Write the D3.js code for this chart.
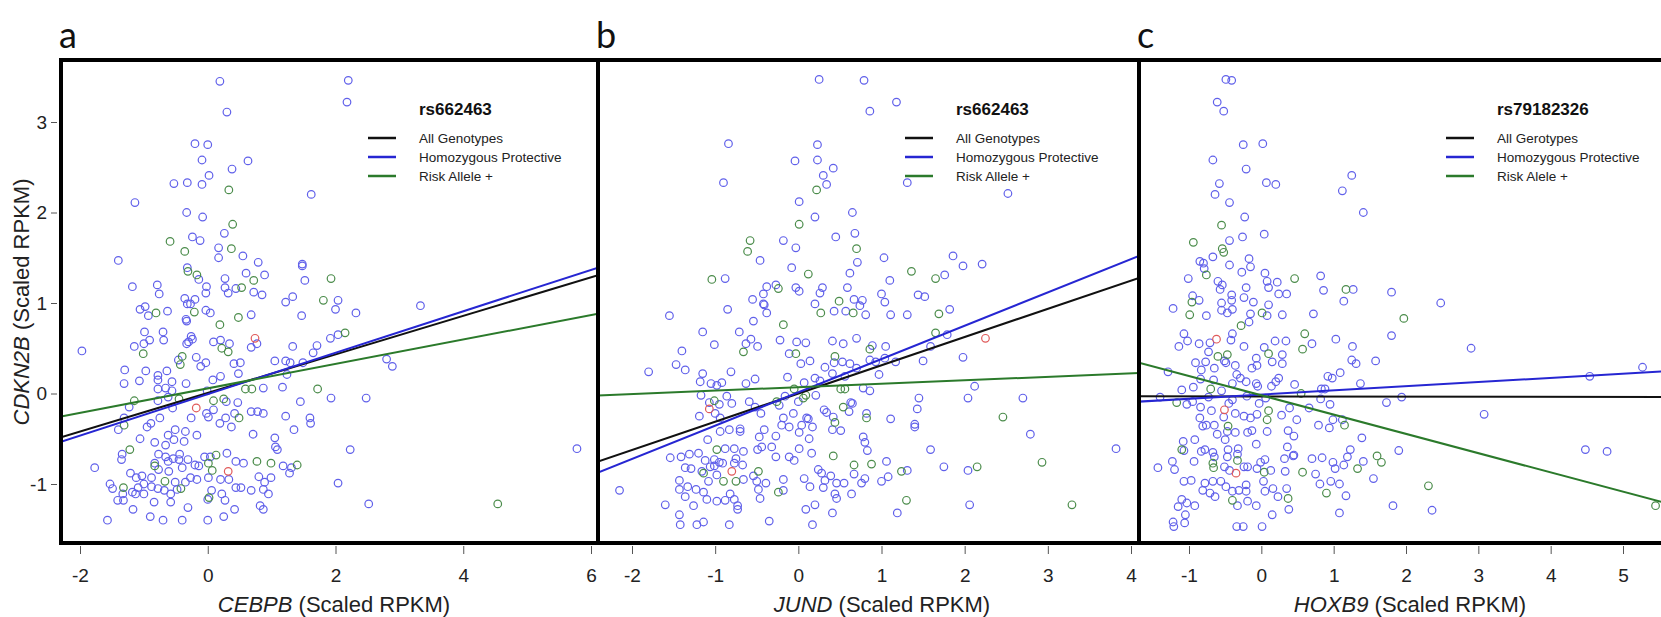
<!DOCTYPE html>
<html>
<head>
<meta charset="utf-8">
<script src="https://cdn.jsdelivr.net/npm/d3@7"></script>
<style>
    body { margin: 0; background: #fff; }
    svg { display: block; font-family: "Liberation Sans", Arial, sans-serif; }
    .tick line { stroke: #555; }
    .tick text { font-size: 19px; fill: #222; }
</style>
</head>
<body>
<script>
let width = 1661,
    height = 617;

// shared y axis (CDKN2B)
let yTicks = [-1, 0, 1, 2, 3];
let xTicksA = [-2, 0, 2, 4, 6];
let xTicksB = [-2, -1, 0, 1, 2, 3, 4];
let xTicksC = [-1, 0, 1, 2, 3, 4, 5];

let legendAB = ["All Genotypes", "Homozygous Protective", "Risk Allele +"];
let legendC = ["All Gerotypes", "Homozygous Protective", "Risk Alele +"];

// fitted lines: [slope, intercept] for all / homozygous protective / risk allele +
let cebpbFits = [[0.213, 0.006], [0.229, -0.008], [0.135, 0.057]];
let jundFits = [[0.312, 0.0], [0.368, 0.013], [0.038, 0.07]];
let hoxb9Fits = [[-0.0014, -0.032], [0.046, -0.012], [-0.213, -0.02]];

let cebpbBlue = [[0.19,3.45],[2.20,3.46],[2.18,3.22],[0.30,3.11],[-0.20,2.76],[0.00,2.75],[-0.09,2.58],[0.38,2.48],[0.63,2.57],[0.02,2.41],[-0.53,2.32],[-0.32,2.33],[-0.09,2.31],[1.62,2.20],[-1.14,2.11],[-0.33,2.00],[-0.08,1.95],[0.26,1.77],[-0.24,1.73],[-0.12,1.69],[0.17,1.61],[0.17,1.50],[-1.40,1.47],[0.55,1.52],[0.79,1.45],[1.48,1.41],[1.48,1.43],[-0.32,1.39],[0.60,1.33],[0.89,1.31],[0.27,1.27],[-0.14,1.26],[1.52,1.25],[-1.18,1.18],[-0.79,1.20],[-0.02,1.18],[0.27,1.17],[0.44,1.16],[-0.03,1.11],[0.32,1.11],[0.72,1.12],[0.85,1.09],[-0.76,1.10],[1.33,1.07],[1.22,1.01],[-0.36,1.05],[-0.20,1.04],[-0.32,0.99],[-0.27,0.99],[2.04,1.03],[2.00,0.93],[2.32,0.89],[3.33,0.97],[-1.06,0.93],[-0.98,0.96],[-0.63,0.91],[-0.93,0.86],[-0.03,0.92],[0.04,0.89],[0.68,0.87],[1.47,0.86],[-0.34,0.82],[-0.33,0.80],
    [-0.99,0.68],[-0.70,0.68],[-0.69,0.59],[-0.91,0.59],[-1.00,0.55],[-1.15,0.52],[-1.97,0.47],[-0.26,0.63],[-0.24,0.60],[-0.30,0.57],[-0.33,0.55],[0.09,0.57],[0.20,0.59],[0.34,0.55],[0.77,0.55],[0.68,0.51],[1.33,0.52],[1.71,0.53],[1.65,0.45],[1.92,0.61],[2.04,0.65],[2.80,0.38],[2.89,0.30],[-1.30,0.26],[-0.97,0.25],[-0.78,0.20],[-0.64,0.25],[-0.46,0.37],[-0.18,0.40],[-0.11,0.30],[-0.03,0.34],[0.41,0.33],[0.51,0.34],[0.48,0.22],[0.20,0.19],[0.08,0.15],[1.05,0.36],[1.22,0.36],[1.29,0.34],[1.49,0.34],[1.24,0.21],[-1.31,0.11],[-1.07,0.14],[-0.78,0.15],[-0.56,0.13],[-0.34,0.11],[-0.78,0.05],[-0.66,0.06],[-0.56,0.03],[-0.01,0.03],[0.87,0.06],[1.17,0.07],[1.93,-0.05],[2.48,-0.05],
    [-1.23,-0.15],[-0.78,-0.08],[-0.62,-0.04],[0.29,-0.09],[0.47,-0.10],[-0.26,-0.27],[-0.55,-0.16],[-0.02,-0.22],[0.01,-0.26],[0.09,-0.18],[0.19,-0.33],[0.28,-0.27],[0.37,-0.37],[0.42,-0.22],[0.68,-0.20],[0.78,-0.20],[0.87,-0.22],[1.22,-0.25],[1.60,-0.27],[1.61,-0.33],[1.35,-0.40],[0.71,-0.45],[1.45,-0.09],[-1.31,-0.27],[-1.40,-0.40],[-0.95,-0.37],[-0.89,-0.33],[-0.75,-0.27],[-0.51,-0.40],[-0.53,-0.51],[-0.62,-0.46],[-0.35,-0.42],[-0.17,-0.46],[-1.06,-0.50],[1.05,-0.49],[1.09,-0.62],[1.06,-0.59],[2.23,-0.62],[5.78,-0.61],
    [-1.34,-0.67],[-1.35,-0.73],[-0.83,-0.54],[-0.77,-0.67],[-0.66,-0.57],[-0.44,-0.67],[-0.37,-0.53],[-0.83,-0.77],[-0.66,-0.70],[-0.62,-0.75],[-0.54,-0.72],[-0.45,-0.73],[-0.31,-0.73],[-0.40,-0.82],[-0.20,-0.79],[-0.14,-0.80],[-0.05,-0.70],[0.04,-0.70],[0.30,-0.66],[0.44,-0.75],[0.56,-0.77],[1.18,-0.80],[1.31,-0.82],[1.28,-0.88],[-1.77,-0.82],[-1.21,-0.88],[-1.12,-0.93],[-1.03,-0.91],[-0.88,-0.93],[-0.77,-0.84],[-0.61,-0.86],[-1.00,-1.00],[-0.88,-1.03],[-1.09,-1.04],[-1.18,-1.09],[-1.13,-1.11],[-1.53,-1.00],[-1.49,-1.05],[-1.33,-1.11],[-1.32,-1.18],[-1.00,-1.11],[-0.78,-1.05],[-0.68,-1.07],[-0.58,-1.11],[-0.51,-0.98],[-0.48,-1.06],[-0.35,-0.98],[-0.27,-0.93],[-0.17,-0.95],[0.01,-0.93],[0.20,-0.95],[0.33,-0.95],[0.44,-1.04],[0.22,-1.11],[0.00,-1.17],[0.27,-1.18],[0.68,-1.07],[0.87,-1.06],[0.95,-1.11],[0.89,-0.98],[0.80,-0.92],[0.99,-0.93],[2.04,-0.99],[2.52,-1.22],[-1.41,-1.18],[-1.17,-1.28],[-0.90,-1.36],[-1.57,-1.40],[-0.70,-1.40],[-0.40,-1.40],[0.00,-1.40],[0.25,-1.36],[0.42,-1.28],[0.82,-1.24],[0.87,-1.28],[-0.31,-1.26],[-0.58,-1.20],[-0.84,-1.20],[0.06,-1.07],[0.52,-1.04]];
let cebpbGreen = [[0.33,2.25],[0.39,1.87],[-0.59,1.68],[0.37,1.60],[-0.36,1.57],[-0.31,1.35],[-0.17,1.31],[0.72,1.25],[1.93,1.27],[0.53,1.17],[1.81,1.03],[-0.81,0.89],[-0.21,0.90],[0.48,0.84],[0.19,0.76],[0.22,0.50],[0.32,0.46],[2.15,0.67],[-1.01,0.44],[-0.43,0.32],[-0.40,0.41],[0.59,0.05],[0.69,0.05],[1.72,0.05],[-1.15,-0.08],[-0.45,-0.06],[0.09,-0.08],[0.25,-0.06],[0.49,-0.27],[-1.31,-0.35],[-1.22,-0.62],[0.13,-0.68],[0.01,-0.77],[0.07,-0.85],[0.77,-0.75],[0.99,-0.77],[1.40,-0.79],[-0.83,-0.80],[-0.67,-0.97],[-1.32,-1.04],[-0.42,-1.05],[0.02,-1.15],[4.54,-1.22]];
let cebpbRed = [[0.74,0.61],[-0.18,-0.16],[0.32,-0.86]];

let jundBlue = [[0.25,3.47],[0.79,3.46],[1.18,3.22],[0.86,3.12],[-0.84,2.76],[0.23,2.75],[-0.04,2.57],[0.23,2.58],[0.42,2.49],[0.30,2.41],[0.34,2.31],[-0.90,2.33],[1.31,2.33],[2.52,2.21],[0.01,2.12],[0.20,1.95],[0.65,2.00],[-0.18,1.69],[-0.03,1.61],[0.45,1.73],[0.68,1.77],[-0.46,1.47],[-0.08,1.39],[0.62,1.33],[0.71,1.45],[1.03,1.50],[1.86,1.52],[1.98,1.41],[2.21,1.43],[1.76,1.31],[-0.88,1.27],[-0.38,1.18],[-0.27,1.20],[-0.03,1.17],[0.01,1.13],[0.29,1.17],[0.26,1.11],[0.59,1.17],[1.10,1.25],[1.00,1.10],[1.04,1.01],[1.44,1.09],[1.52,1.07],[-0.55,1.04],[-0.42,1.10],[-0.42,0.99],[0.20,0.99],[0.67,1.04],[0.77,1.03],[0.74,0.97],[-0.85,0.93],[-0.38,0.89],[0.43,0.91],[0.57,0.91],[0.81,0.87],[1.11,0.87],[1.31,0.87],[1.82,0.93],[-1.55,0.86],
    [-0.41,0.98],[-0.54,0.80],[-1.15,0.68],[-0.71,0.68],[-0.57,0.60],[-0.63,0.55],[-0.49,0.52],[-1.01,0.54],[-1.40,0.47],[-0.22,0.59],[-0.02,0.57],[0.09,0.56],[0.41,0.58],[0.54,0.55],[0.70,0.61],[-0.11,0.44],[0.89,0.53],[1.05,0.52],[1.79,0.65],[1.59,0.52],[-1.47,0.32],[-1.36,0.26],[-1.80,0.24],[-1.15,0.22],[-1.18,0.13],[-1.05,0.11],[-0.98,0.09],[-0.92,0.12],[-0.81,0.24],[-0.63,0.11],[-0.52,0.16],[0.03,0.33],[0.14,0.36],[0.43,0.34],[0.53,0.35],[0.62,0.33],[0.70,0.28],[0.86,0.37],[0.93,0.35],[1.04,0.39],[1.17,0.35],[1.50,0.36],[1.98,0.40],[0.97,0.21],[0.32,0.29],[0.41,0.22],[0.56,0.19],[-0.13,0.18],[0.07,0.12],[0.20,0.17],[0.26,0.14],[0.78,0.06],[0.86,0.03],[2.12,0.08],[2.04,-0.05],[2.70,-0.05],[1.45,-0.05],[1.43,-0.17],
    [-1.17,-0.02],[-1.07,-0.10],[-0.95,-0.12],[-0.86,-0.03],[-0.80,-0.11],[-1.19,-0.25],[-1.00,-0.22],[-0.94,-0.27],[-0.59,-0.09],[-0.52,-0.15],[-0.45,-0.22],[-0.23,-0.13],[-0.16,-0.03],[0.00,-0.09],[0.21,-0.02],[0.31,-0.18],[0.34,-0.21],[0.63,-0.10],[0.65,-0.11],[0.61,-0.20],[0.42,-0.26],[0.82,-0.22],[1.11,-0.28],[-0.18,-0.27],[-0.06,-0.22],[0.10,-0.27],[0.12,-0.28],[1.40,-0.34],[1.40,-0.37],[-0.83,-0.40],[-0.70,-0.39],[-0.70,-0.42],[-0.94,-0.42],[-0.41,-0.40],[-0.47,-0.48],[-0.27,-0.47],[-0.20,-0.35],[-0.11,-0.37],[0.01,-0.43],[0.04,-0.35],[0.17,-0.37],[0.13,-0.50],[0.41,-0.40],[0.51,-0.41],[0.78,-0.48],[0.80,-0.54],[0.83,-0.63],[2.79,-0.45],[3.82,-0.61],[1.59,-0.62],
    [-1.09,-0.51],[-0.88,-0.61],[-0.77,-0.61],[-0.66,-0.64],[-0.49,-0.62],[-0.44,-0.59],[-0.32,-0.59],[-0.27,-0.70],[-0.11,-0.70],[-0.05,-0.74],[0.01,-0.61],[0.16,-0.66],[-1.54,-0.71],[-1.41,-0.70],[-1.31,-0.67],[-1.20,-0.66],[-1.12,-0.74],[-1.01,-0.73],[-0.95,-0.76],[-0.75,-0.72],[-0.77,-0.77],[-0.67,-0.79],[-2.15,-1.07],[-1.43,-0.96],[-1.36,-0.82],[-1.29,-0.83],[-1.16,-0.86],[-1.06,-0.81],[-1.01,-0.80],[-0.91,-0.77],[-1.08,-0.97],[-0.98,-0.90],[-0.66,-0.95],[-0.54,-0.91],[-0.50,-0.97],[-0.39,-0.99],[-0.18,-0.95],[0.07,-0.94],[0.24,-0.84],[0.28,-0.88],[0.32,-0.96],[0.39,-0.91],[0.46,-0.99],[0.55,-0.99],[0.67,-0.89],[0.80,-0.94],[0.76,-0.99],[1.06,-0.75],[1.08,-0.92],[1.00,-0.97],[1.31,-0.85],[1.75,-0.81],[2.04,-0.85],
    [-1.43,-1.06],[-1.33,-1.03],[-1.23,-1.06],[-1.14,-1.09],[-1.36,-1.14],[-1.26,-1.24],[-1.10,-1.17],[-0.98,-1.19],[-0.88,-1.18],[-0.82,-1.11],[-0.77,-1.17],[-0.73,-1.24],[-0.73,-1.28],[-0.48,-1.06],[-0.46,-1.16],[-0.18,-1.07],[0.14,-1.03],[0.30,-1.04],[0.44,-1.11],[0.46,-1.16],[0.64,-1.11],[2.06,-1.23],[-1.60,-1.23],[-1.43,-1.34],[-1.42,-1.45],[-1.22,-1.45],[-1.14,-1.42],[-0.83,-1.45],[-0.35,-1.41],[0.09,-1.28],[0.20,-1.23],[0.17,-1.45],[0.41,-1.32],[1.19,-1.32]];
let jundGreen = [[0.22,2.25],[0.01,1.87],[-0.58,1.69],[-0.61,1.57],[0.70,1.60],[0.12,1.32],[1.36,1.35],[1.65,1.27],[-1.04,1.26],[-0.24,1.16],[0.49,1.02],[0.27,0.89],[0.66,0.89],[1.69,0.88],[-0.18,0.76],[-0.66,0.46],[-0.03,0.44],[0.44,0.41],[0.86,0.49],[1.65,0.67],[-0.05,0.05],[0.09,-0.02],[0.06,-0.05],[0.51,0.05],[0.56,0.05],[-1.01,-0.08],[-0.26,-0.09],[0.54,-0.15],[0.82,-0.27],[0.44,-0.32],[2.46,-0.26],[-0.98,-0.62],[0.42,-0.69],[-1.14,-0.88],[-0.90,-0.97],[-0.75,-0.97],[-0.48,-0.86],[0.67,-0.79],[0.88,-0.78],[1.24,-0.86],[2.15,-0.81],[2.93,-0.76],[-0.24,-1.09],[1.30,-1.18],[3.29,-1.23]];
let jundRed = [[2.25,0.61],[-1.07,-0.17],[-0.80,-0.86]];

let hoxb9Blue = [[-0.49,3.47],[-0.41,3.46],[-0.61,3.22],[-0.52,3.12],[-0.25,2.75],[0.02,2.76],[-0.67,2.58],[-0.21,2.48],[-0.58,2.32],[0.07,2.33],[0.20,2.31],[1.25,2.41],[1.12,2.24],[1.41,2.00],[-0.64,2.20],[-0.44,2.11],[-0.23,1.95],[-0.44,1.69],[-0.26,1.73],[0.04,1.76],[-0.67,1.51],[-0.85,1.46],[-0.80,1.44],[-0.79,1.38],[-0.44,1.42],[-0.17,1.49],[-0.15,1.40],[-0.27,1.34],[0.05,1.33],[-1.01,1.27],[-0.60,1.24],[-0.54,1.20],[0.08,1.24],[0.22,1.23],[0.82,1.30],[-0.57,1.15],[-0.21,1.17],[0.10,1.17],[0.86,1.14],[1.27,1.15],[1.80,1.12],[2.48,1.00],[-0.95,1.08],[-0.86,1.03],[-0.41,1.09],[-0.24,1.06],[-0.41,1.03],[-0.11,1.01],[0.24,1.10],[0.35,1.10],[1.14,1.02],[-1.22,0.94],[-0.55,1.00],[-0.55,0.92],[-0.40,0.93],[0.10,0.98],[-0.76,0.86],[-0.47,0.89],[-0.15,0.88],[0.08,0.86],[0.29,0.87],[0.72,0.88],
    [-0.17,0.79],[-1.07,0.66],[-1.02,0.58],[-1.14,0.52],[-0.86,0.55],[-0.71,0.56],[-0.73,0.46],[-0.40,0.66],[-0.42,0.59],[-0.24,0.52],[-0.51,0.36],[-0.49,0.34],[-0.36,0.31],[-0.91,0.34],[-0.77,0.35],[-0.83,0.26],[-0.65,0.28],[-1.29,0.24],[-1.10,0.04],[-0.94,0.07],[-0.84,0.16],[-0.66,0.15],[-0.55,0.03],[-0.40,0.11],[-0.29,0.17],[-0.21,0.13],[-0.34,0.21],[-0.07,0.39],[-0.06,0.31],[-0.13,0.28],[0.04,0.51],[0.15,0.35],[0.29,0.43],[0.29,0.33],[0.19,0.58],[0.34,0.58],[-0.07,0.11],[-0.05,0.08],[0.14,0.08],[0.20,0.13],[0.24,0.17],[0.46,0.10],[0.70,0.55],[0.92,0.19],[0.98,0.17],[0.83,0.05],[0.88,0.05],[1.09,0.23],[1.03,0.60],[1.26,0.52],[1.25,0.37],[1.31,0.33],[1.58,0.36],[1.37,0.11],[1.80,0.64],[2.90,0.50],[4.54,0.19],[5.27,0.29],
    [-1.40,-0.04],[-1.03,-0.12],[-0.95,-0.09],[-0.84,-0.15],[-0.73,-0.04],[-0.45,-0.11],[-0.40,-0.07],[-0.20,-0.03],[-0.03,-0.11],[0.06,-0.05],[0.39,-0.16],[0.66,-0.16],[0.82,-0.06],[0.95,-0.12],[1.73,-0.10],[1.94,-0.04],[3.08,-0.23],[-0.69,-0.19],[-0.52,-0.26],[-0.36,-0.22],[-0.24,-0.25],[-0.15,-0.27],[-0.06,-0.23],[0.28,-0.24],[0.49,-0.29],[0.99,-0.29],[1.12,-0.29],[0.79,-0.35],[0.94,-0.38],[-0.85,-0.27],[-0.81,-0.36],[-0.76,-0.35],[-0.65,-0.35],[-0.61,-0.45],[-0.50,-0.51],[-0.47,-0.42],[-0.36,-0.43],[-0.19,-0.43],[-0.13,-0.41],[0.08,-0.42],[0.37,-0.41],[0.45,-0.47],[-0.07,-0.56],[0.36,-0.59],[0.45,-0.68],[1.39,-0.49],[1.23,-0.62],[1.90,-0.63],[4.48,-0.62],[4.78,-0.64],
    [-0.92,-0.51],[-1.08,-0.53],[-1.07,-0.63],[-0.83,-0.64],[-0.78,-0.62],[-0.67,-0.65],[-0.46,-0.62],[-0.32,-0.61],[-0.33,-0.67],[-0.47,-0.70],[-0.65,-0.70],[-0.93,-0.75],[-1.23,-0.75],[-1.20,-0.84],[-1.43,-0.82],[-0.51,-0.81],[-0.44,-0.85],[-0.24,-0.81],[-0.19,-0.81],[-0.01,-0.76],[0.05,-0.73],[-0.06,-0.83],[0.13,-0.85],[0.32,-0.72],[0.44,-0.69],[0.33,-0.86],[0.70,-0.72],[0.84,-0.71],[0.75,-0.89],[0.99,-0.76],[1.02,-0.83],[1.14,-0.79],[1.19,-0.70],[1.41,-0.75],[1.55,-0.94],
    [-1.07,-0.97],[-0.97,-0.96],[-0.78,-0.99],[-0.67,-0.97],[-0.56,-0.97],[-0.49,-1.03],[-0.81,-1.07],[-0.71,-1.10],[-0.64,-1.14],[-0.40,-1.08],[-0.31,-1.07],[-0.21,-1.08],[-0.21,-1.01],[0.03,-0.97],[0.05,-1.08],[0.16,-1.05],[0.23,-1.14],[0.35,-1.05],[0.81,-1.00],[0.96,-0.97],[1.08,-1.00],[1.17,-1.13],[1.82,-1.24],[2.36,-1.29],[-1.10,-1.17],[-1.03,-1.21],[-0.92,-1.24],[-1.15,-1.25],[-1.05,-1.34],[-1.22,-1.42],[-1.21,-1.47],[-1.06,-1.43],[-0.33,-1.24],[-0.19,-1.19],[-0.07,-1.24],[0.15,-1.34],[0.38,-1.28],[1.08,-1.32],[-0.34,-1.47],[-0.25,-1.47],[0.01,-1.47]];
let hoxb9Green = [[-0.55,1.86],[-0.94,1.67],[-0.54,1.60],[-0.52,1.56],[-0.76,1.31],[0.46,1.27],[1.17,1.15],[-0.96,1.01],[-0.99,0.87],[0.01,0.89],[1.97,0.83],[-0.28,0.75],[-0.60,0.41],[-0.47,0.43],[0.10,0.44],[0.60,0.66],[0.57,0.49],[0.55,0.00],[-1.17,-0.10],[-0.70,0.05],[0.10,-0.19],[0.08,-0.29],[1.15,-0.35],[-0.46,-0.36],[-1.10,-0.62],[-0.33,-0.74],[-0.67,-0.77],[-0.66,-0.82],[0.04,-0.87],[0.57,-0.87],[1.33,-0.83],[1.60,-0.69],[1.66,-0.76],[0.90,-1.10],[2.31,-1.02],[5.45,-1.24],[-0.40,-1.18],[0.37,-1.16]];
let hoxb9Red = [[-0.62,0.60],[-0.51,-0.18],[-0.35,-0.88]];

let dotColors = { blue: "#6060ea", green: "#4b8c4b", red: "#e05a5a" };
let lineColors = ["#111111", "#2626d2", "#2b7a2b"];

let panels = [
    { letter: "a", left: 61, right: 598, xDomain: [-2, 6], xRange: [80, 591], ticks: xTicksA,
      gene: "CEBPB", titleX: 334, snp: "rs662463", labels: legendAB,
      blue: cebpbBlue, green: cebpbGreen, red: cebpbRed, fits: cebpbFits },
    { letter: "b", left: 598, right: 1139, xDomain: [-2, 4], xRange: [632, 1131], ticks: xTicksB,
      gene: "JUND", titleX: 882, snp: "rs662463", labels: legendAB,
      blue: jundBlue, green: jundGreen, red: jundRed, fits: jundFits },
    { letter: "c", left: 1139, right: 1672, xDomain: [-1, 5], xRange: [1189, 1623], ticks: xTicksC,
      gene: "HOXB9", titleX: 1410, snp: "rs79182326", labels: legendC,
      blue: hoxb9Blue, green: hoxb9Green, red: hoxb9Red, fits: hoxb9Fits }
];

let frameTop = 60,
    frameBottom = 543;

let svg = d3.select('body').append('svg')
    .attr('width', width)
    .attr('height', height);

let y = d3.scaleLinear().domain([-1, 3]).range([484, 122]);

svg.append('g')
    .attr('transform', 'translate(57,0)')
    .call(d3.axisLeft(y).tickValues(yTicks).tickSize(6).tickPadding(4).tickFormat(d => String(d)))
    .call(g => g.select('.domain').remove());

let yTitle = svg.append('text')
    .attr('transform', 'translate(29,302) rotate(-90)')
    .attr('text-anchor', 'middle')
    .style('font-size', '22px')
    .attr('fill', '#222');
yTitle.append('tspan').style('font-style', 'italic').text('CDKN2B');
yTitle.append('tspan').text(' (Scaled RPKM)');

panels.forEach((p, i) => {
    let x = d3.scaleLinear().domain(p.xDomain).range(p.xRange);
    let g = svg.append('g');

    let clipId = 'clip-' + p.letter;
    svg.append('clipPath').attr('id', clipId)
        .append('rect')
        .attr('x', p.left).attr('y', frameTop)
        .attr('width', p.right - p.left).attr('height', frameBottom - frameTop);

    let plot = g.append('g').attr('clip-path', 'url(#' + clipId + ')');

    ['blue', 'green', 'red'].forEach(k => {
        plot.selectAll('circle.' + k).data(p[k]).enter()
            .append('circle')
            .attr('class', k)
            .attr('cx', d => x(d[0]))
            .attr('cy', d => y(d[1]))
            .attr('r', 3.8)
            .attr('fill', 'none')
            .attr('stroke', dotColors[k])
            .attr('stroke-width', 1.2);
    });

    let x0 = x.invert(p.left), x1 = x.invert(p.right);
    plot.selectAll('line.fit').data(p.fits).enter()
        .append('line')
        .attr('class', 'fit')
        .attr('x1', x(x0)).attr('x2', x(x1))
        .attr('y1', d => y(d[1] + d[0] * x0))
        .attr('y2', d => y(d[1] + d[0] * x1))
        .attr('stroke', (d, j) => lineColors[j])
        .attr('stroke-width', 2);

    // legend
    let lg = g.append('g').attr('transform', 'translate(' + p.left + ',0)');
    lg.append('text')
        .attr('x', 358).attr('y', 115)
        .style('font-size', '17px').style('font-weight', 'bold')
        .attr('fill', '#111')
        .text(p.snp);
    p.labels.forEach((lab, j) => {
        let ly = 138 + j * 19;
        lg.append('line')
            .attr('x1', 307).attr('x2', 335)
            .attr('y1', ly).attr('y2', ly)
            .attr('stroke', lineColors[j])
            .attr('stroke-width', 2.5);
        lg.append('text')
            .attr('x', 358).attr('y', ly + 5)
            .style('font-size', '13.5px')
            .attr('fill', '#222')
            .text(lab);
    });

    g.append('g')
        .attr('transform', 'translate(0,546)')
        .call(d3.axisBottom(x).tickValues(p.ticks).tickSize(8).tickPadding(15).tickFormat(d => String(d)))
        .call(a => a.select('.domain').remove());

    let xt = g.append('text')
        .attr('x', p.titleX).attr('y', 612)
        .attr('text-anchor', 'middle')
        .style('font-size', '22px')
        .attr('fill', '#222');
    xt.append('tspan').style('font-style', 'italic').text(p.gene);
    xt.append('tspan').text(' (Scaled RPKM)');

    g.append('text')
        .attr('x', p.left - 2).attr('y', 48)
        .style('font-family', 'Lato, "Open Sans", sans-serif')
        .style('font-size', '36px')
        .attr('fill', '#111')
        .text(p.letter);

    g.append('rect')
        .attr('x', p.left).attr('y', frameTop)
        .attr('width', p.right - p.left).attr('height', frameBottom - frameTop)
        .attr('fill', 'none')
        .attr('stroke', '#000')
        .attr('stroke-width', 4);
});
</script>
</body>
</html>
